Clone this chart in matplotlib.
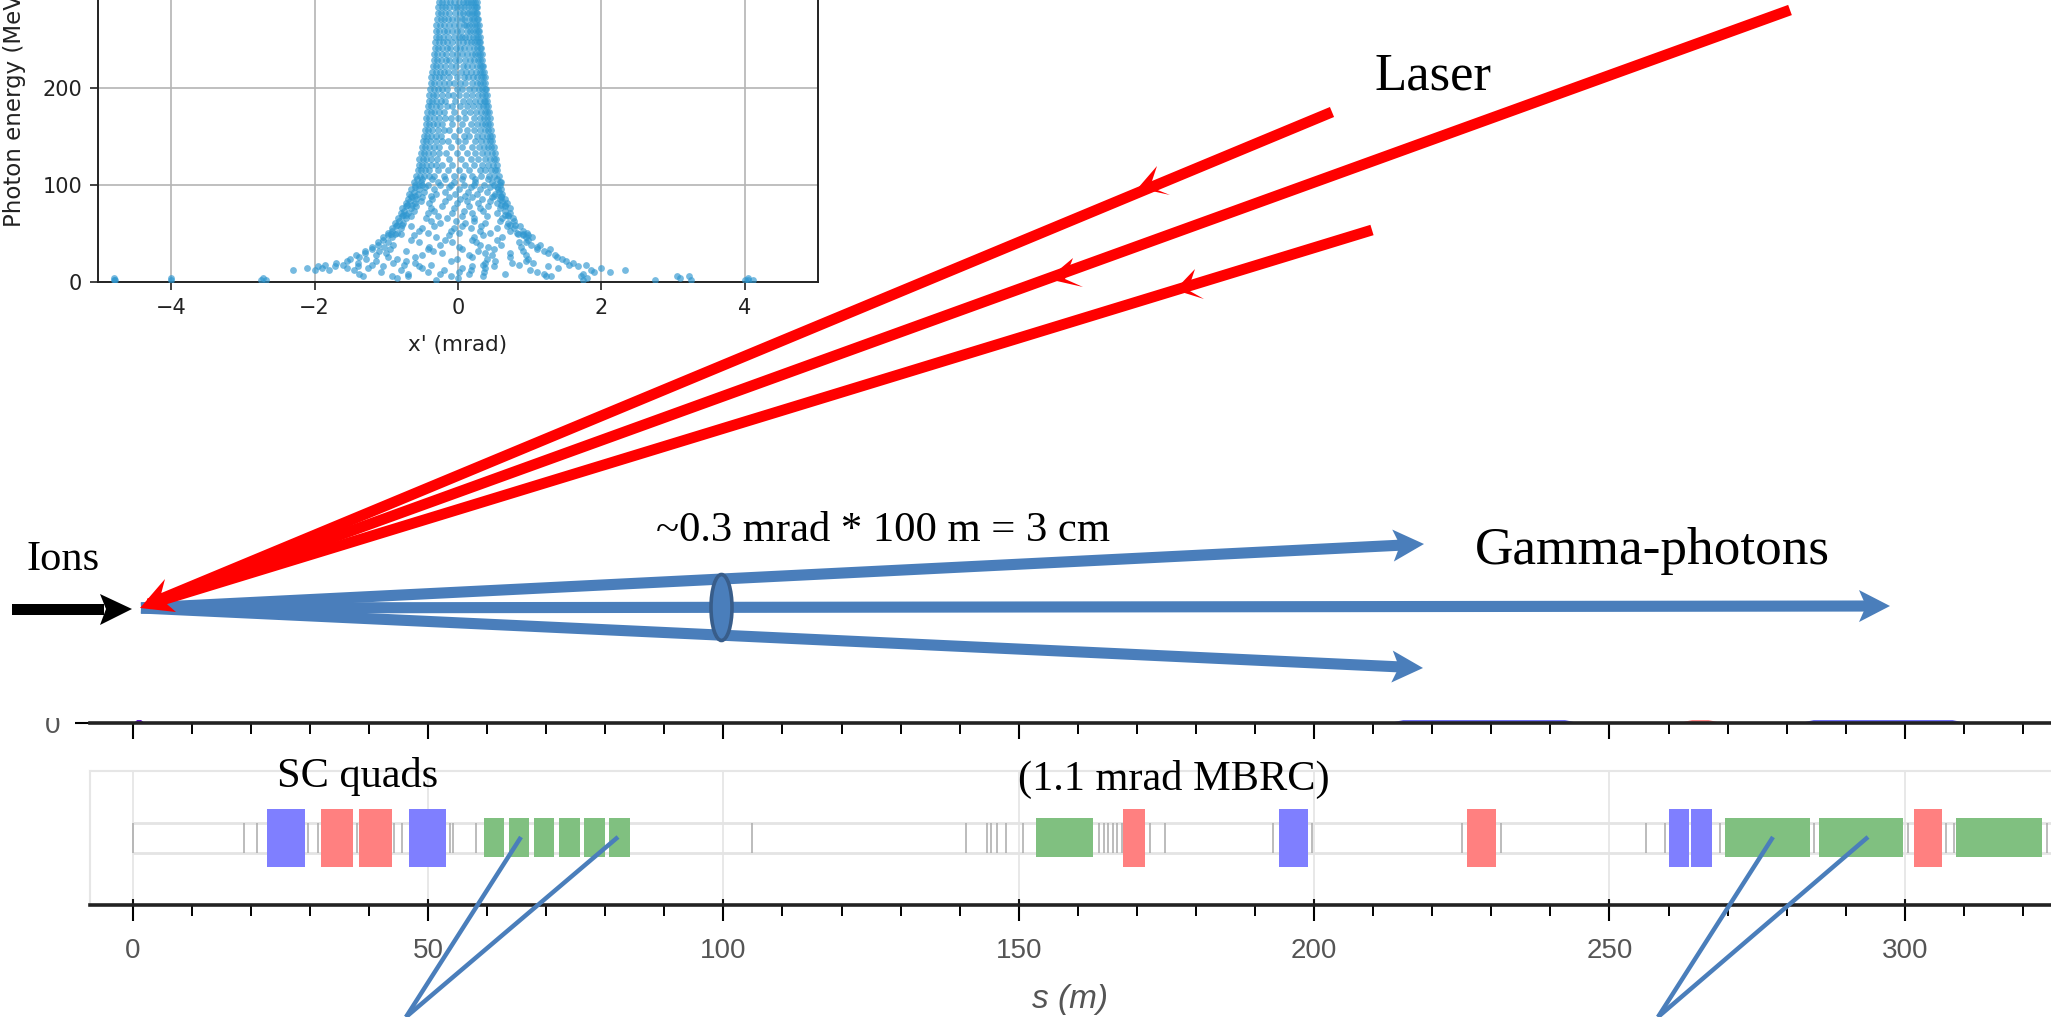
#!/usr/bin/env python3
# laser / gamma-photon sketch over a lattice strip, with scatter inset
import matplotlib
matplotlib.use("Agg")
import matplotlib.pyplot as plt
from matplotlib.patches import Ellipse, Polygon, Rectangle

W, H = 2051, 1017

# ---- inset: photon energy vs x' (rows of equal energy)
ROW_E = [2, 4, 6, 8, 10, 12, 14, 16, 18, 20, 22, 24, 26, 28, 30, 32, 34, 36, 38, 41, 43, 46, 48, 51, 53,
         56, 58, 61, 63, 66, 68, 71, 73, 76, 78, 81, 83, 86, 88, 91, 93, 96, 98,
         103, 109, 115, 121, 127, 133, 139, 145, 151, 157, 163, 169, 175, 181, 187, 193,
         199, 205, 211, 217, 223, 229, 235, 241, 247, 253, 259, 265, 271, 277, 283, 289, 295,
         49, 59, 69, 79, 89, 100.5, 106]
ROW_X = [
    [-4.8, -4.78, -4.0, -2.75, -2.68, -.3, 1.75, 2.75, 3.25, 4.0, 4.05, 4.12],
    [-4.8, -4.0, -2.72, -.85, 0.0, 1.8, 3.1, 4.05],
    [-1.32, -.92, -.7, -.1, .35, 1.23, 1.3, 1.72, 3.05, 3.22],
    [-1.38, -.7, -.25, .16, .65, 1.2, 1.75],
    [-1.08, -.42, .02, .36, 1.1, 1.9, 2.12],
    [-2.3, -2.0, -1.8, -1.45, -.8, -.2, .18, 1.0, 1.85, 2.33],
    [-2.1, -1.9, -1.55, -1.25, -.5, .05, .38, 1.4, 2.0],
    [-1.95, -1.72, -1.4, -1.05, -.55, .2, .5, 1.25, 1.68],
    [-1.85, -1.6, -1.2, -.75, -.38, .35, .85, 1.55, 1.78],
    [-1.7, -1.4, -.9, -.6, .38, .75, 1.05, 1.6],
    [-1.55, -1.15, -.72, -.1, .52, .95, 1.5],
    [-1.5, -1.28, -.85, -.02, .4, .98, 1.45],
    [-1.38, -.98, -.6, .2, .72, 1.38],
    [-1.42, -1.15, -.5, .15, .48, .95, 1.35],
    [-1.3, -1.0, -.22, .38, .72, 1.25],
    [-1.3, -1.1, -.72, -.35, .28, .9, 1.2],
    [-1.2, -.95, -.42, .05, .5, 1.1, 1.28],
    [-1.2, -1.03, -.4, .02, .42, .88, 1.1],
    [-1.12, -.9, -.25, .3, .6, 1.02, 1.15],
    [-1.12, -.98, -.55, -.08, .25, .85, .95],
    [-1.05, -.65, -.18, .2, .55, .98],
    [-1.05, -.92, -.3, .22, .62, .95, 1.03],
    [-.98, -.62, -.12, .35, .9, .98],
    [-.98, -.85, -.42, .02, .45, .82, .96],
    [-.92, -.55, -.1, .3, .72, .9],
    [-.92, -.8, -.5, -.05, .18, .55, .78],
    [-.86, -.65, -.33, .05, .32, .68, .86],
    [-.88, -.76, -.25, .1, .38, .7],
    [-.82, -.38, -.03, .22, .58, .78],
    [-.84, -.72, -.45, -.15, .22, .62, .76],
    [-.78, -.66, -.28, .05, .4, .7],
    [-.8, -.7, -.42, -.08, .2, .55, .72],
    [-.75, -.62, -.33, .08, .35, .66],
    [-.78, -.66, -.38, -.05, .3, .58, .72],
    [-.72, -.58, -.22, .15, .42, .66],
    [-.73, -.6, -.4, -.02, .28, .55, .68],
    [-.67, -.52, -.18, .12, .45, .62],
    [-.7, -.58, -.36, .03, .34, .58, .65],
    [-.64, -.5, -.12, .2, .48, .6],
    [-.68, -.56, -.3, -.04, .26, .52, .62],
    [-.62, -.48, -.18, .14, .4, .57],
    [-.65, -.54, -.34, .02, .3, .56, .6],
    [-.6, -.46, -.12, .18, .44, .55],
    [-.62, -.52, -.28, -.05, .24, .48, .58, .6],
    [-.58, -.53, -.47, -.41, -.33, -.2, -.06, .07, .2, .32, .43, .5, .57],
    [-.56, -.52, -.46, -.4, -.28, -.14, .02, .16, .3, .38, .46, .51, .55],
    [-.55, -.5, -.45, -.38, -.31, -.22, -.08, .1, .22, .34, .42, .49, .54],
    [-.54, -.49, -.44, -.37, -.29, -.12, .04, .18, .28, .37, .44, .5, .53],
    [-.52, -.48, -.42, -.35, -.26, -.17, -.02, .12, .24, .33, .41, .47, .51],
    [-.5, -.46, -.4, -.34, -.27, -.1, .06, .2, .29, .36, .42, .46, .5],
    [-.49, -.45, -.39, -.31, -.22, -.14, 0.0, .1, .24, .32, .39, .45, .48],
    [-.48, -.43, -.37, -.3, -.24, -.06, .08, .16, .27, .34, .4, .44, .47],
    [-.46, -.42, -.36, -.28, -.2, -.12, .02, .13, .22, .31, .38, .42, .46],
    [-.45, -.41, -.35, -.29, -.22, -.08, .06, .18, .26, .33, .38, .42, .45],
    [-.44, -.4, -.34, -.27, -.18, -.1, 0.0, .1, .22, .3, .36, .41, .44],
    [-.43, -.38, -.33, -.26, -.2, -.05, .08, .17, .25, .32, .37, .4, .43],
    [-.42, -.37, -.31, -.25, -.16, -.09, .03, .12, .21, .29, .35, .39, .42],
    [-.41, -.36, -.3, -.24, -.18, -.04, .07, .16, .24, .3, .36, .38, .41],
    [-.4, -.35, -.3, -.23, -.14, -.07, .02, .11, .2, .28, .33, .37, .4],
    [-.39, -.34, -.28, -.22, -.15, -.02, .06, .15, .22, .29, .34, .37, .39],
    [-.38, -.33, -.27, -.2, -.13, -.06, .03, .1, .19, .26, .31, .35, .38],
    [-.37, -.32, -.27, -.21, -.12, -.01, .08, .14, .21, .27, .32, .35, .37],
    [-.36, -.31, -.25, -.19, -.14, -.05, .04, .11, .18, .25, .3, .34, .36],
    [-.35, -.3, -.25, -.18, -.1, -.03, .07, .13, .2, .26, .3, .33, .35],
    [-.34, -.29, -.24, -.17, -.12, -.04, .02, .1, .17, .23, .28, .31, .34],
    [-.33, -.29, -.23, -.17, -.09, -.01, .06, .12, .19, .24, .28, .31, .33],
    [-.32, -.28, -.22, -.16, -.11, -.03, .03, .09, .16, .22, .27, .3, .32],
    [-.32, -.27, -.21, -.15, -.08, 0.0, .07, .13, .18, .23, .26, .29, .31],
    [-.31, -.26, -.21, -.14, -.06, .02, .05, .1, .15, .21, .25, .28, .3],
    [-.3, -.26, -.2, -.15, -.09, -.02, .04, .12, .17, .21, .25, .28, .29],
    [-.3, -.25, -.19, -.13, -.05, .01, .08, .11, .15, .2, .24, .27, .29],
    [-.29, -.24, -.19, -.14, -.08, -.01, .05, .09, .16, .2, .23, .26, .28],
    [-.28, -.24, -.18, -.12, -.04, .03, .07, .12, .15, .19, .22, .25, .27],
    [-.28, -.23, -.18, -.13, -.06, -.01, .04, .09, .14, .18, .22, .25, .27],
    [-.27, -.23, -.17, -.11, -.05, .02, .07, .11, .14, .18, .21, .24, .26],
    [-.26, -.22, -.17, -.12, -.07, -.01, .05, .09, .13, .17, .2, .23, .25],
    [-.93, -.88, -.8, .84, .9],
    [-.85, -.78, .72, .8],
    [-.77, -.72, .66, .7],
    [-.71, -.64, .6, .66],
    [-.66, -.6, -.38, .1, .5, .6],
    [-.6, -.55, -.5, -.42, -.25, -.1, .08, .22, .36, .5, .58],
    [-.57, -.5, -.36, -.18, .05, .24, .42, .54],
]

# ---- lattice elements, s (m)
QUAD_F_START = [22.8, 46.7, 194.0, 260.0, 263.8]
QUAD_F_END = [29.1, 53.1, 198.9, 263.5, 267.3]
QUAD_D_START = [31.8, 38.3, 167.7, 225.9, 301.6]
QUAD_D_END = [37.3, 43.9, 171.3, 230.8, 306.3]
DIPOLE_START = [59.4, 63.7, 67.9, 72.2, 76.4, 80.7, 153.0, 269.6, 285.4, 308.7]
DIPOLE_END = [62.9, 67.1, 71.4, 75.7, 80.0, 84.2, 162.6, 284.0, 299.7, 323.2]
MARKERS = [0, 18.9, 21.1, 29.6, 31.3, 37.9, 44.2, 45.6, 53.7, 54.2, 58.1, 104.8, 141, 144.6,
           145.3, 146.4, 147.9, 150.8, 163.6, 164.4, 165.1, 165.9, 166.7, 167.5, 172.2, 174.7,
           193.1, 199.6, 225, 231.6, 256.2, 259.4, 268.7, 284.6, 300.6, 306.9, 308.4, 324]
MAJOR = [0, 50, 100, 150, 200, 250, 300]
MINOR = [10, 20, 30, 40, 60, 70, 80, 90, 110, 120, 130, 140, 160, 170, 180, 190, 210, 220, 230,
         240, 260, 270, 280, 290, 310, 320]

# remains of the hidden plot above the strip
TOP_START = [0, 212.5, 261.4, 282.0]
TOP_END = [2, 244.9, 269.2, 310.5]
TOP_COLOR = ["#6a1fd0", "#7070f5", "#ff8a8a", "#7070f5"]

# ---- diagram, picture pixels
ORIGIN = (141, 608)
RED_ENDS = [(1332, 112), (1790, 10), (1372, 230)]
BLUE_TIPS = [(1424, 544), (1890, 606), (1423, 668)]
RED_BARBS = [[(1138, 188), (1157, 166), (1150, 187), (1170, 195)],
             [(1048, 279), (1073, 258), (1065, 279), (1083, 287)],
             [(1175, 290), (1195, 269), (1188, 290), (1204, 299)],
             [(140, 608), (165, 579), (160, 598), (176, 612)]]
POINTER_TIPS = [(406, 1017), (1658, 1017)]
POINTER_ENDS = [[(521, 837), (618, 837)], [(1773, 837), (1868, 837)]]
RED = "#ff0000"
BLUE = "#4a7ebb"


def mpos(left, top, right, bottom):
    return [left / W, 1 - bottom / H, (right - left) / W, (bottom - top) / H]


def s_lim(left, right):
    return (left - 132.7) / 5.907, (right - 132.7) / 5.907


plt.rcParams["font.family"] = ["Liberation Sans", "DejaVu Sans"]
fig = plt.figure(figsize=(W / 100, H / 100), dpi=100)

# ---- lattice strip
ax = fig.add_axes(mpos(90, 771, W, 905))
ax.set_xlim(*s_lim(90, W))
ax.set_ylim(-1, 1)
for s in ["top", "left"]:
    ax.spines[s].set_color("#e6e6e6")
    ax.spines[s].set_linewidth(1.5)
ax.spines["right"].set_visible(False)
ax.spines["bottom"].set_linewidth(2.6)
ax.spines["bottom"].set_color("#222222")
ax.set_yticks([])
ax.set_xticks(MAJOR)
ax.set_xticks(MINOR, minor=True)
ax.xaxis.grid(True, color="#e4e4e4", lw=1.2)
ax.set_axisbelow(True)
ax.tick_params(axis="x", which="major", length=11.5, width=1.5, pad=12, labelsize=20,
               labelcolor="#555555")
ax.tick_params(axis="x", which="minor", length=8, width=1.4)
ax.vlines(MAJOR, -1, -0.91, color="#111111", lw=1.5)
ax.set_xlabel("s (m)", fontsize=24, style="italic", color="#555555", labelpad=15)
ax.hlines([.224, -.224], 0, s_lim(90, W)[1], color="#e4e4e4", lw=2)
ax.vlines(MARKERS, -.23, .23, color="#aaaaaa", lw=1.1)
for a, b in zip(QUAD_F_START, QUAD_F_END):
    ax.bar((a + b) / 2, .866, b - a, bottom=-.433, color="#7f7fff", zorder=3)
for a, b in zip(QUAD_D_START, QUAD_D_END):
    ax.bar((a + b) / 2, .866, b - a, bottom=-.433, color="#ff8080", zorder=3)
for a, b in zip(DIPOLE_START, DIPOLE_END):
    ax.bar((a + b) / 2, .58, b - a, bottom=-.28, color="#80c080", zorder=3)

# ---- cut-off strip above
top = fig.add_axes(mpos(90, 716, W, 723))
top.set_xlim(*s_lim(90, W))
top.set_ylim(0, 7)
for s in ["top", "left", "right"]:
    top.spines[s].set_visible(False)
top.spines["bottom"].set_linewidth(2.6)
top.spines["bottom"].set_color("#222222")
top.set_xticks(MAJOR)
top.set_xticklabels([])
top.set_xticks(MINOR, minor=True)
top.set_yticks([0])
top.set_yticklabels(["0"], fontsize=20, color="#555555")
top.tick_params(axis="x", which="major", length=11.5, width=1.5)
top.tick_params(axis="x", which="minor", length=8, width=1.4)
top.tick_params(axis="y", length=11, width=1.5, pad=10)
for a, b, c in zip(TOP_START, TOP_END, TOP_COLOR):
    taper = min(2.5, (b - a) / 3)
    top.fill_between([a, a + taper, b - taper, b], 0, [0, 3.5, 3.5, 0], color=c, lw=0)

# ---- diagram overlay in picture pixels
ov = fig.add_axes([0, 0, 1, 1], zorder=5)
ov.set_xlim(0, W)
ov.set_ylim(H, 0)
ov.axis("off")
ov.add_patch(Rectangle((0, 690), 120, 28, fc="white", ec="none", zorder=0))

for tip in BLUE_TIPS:
    dx, dy = tip[0] - ORIGIN[0], tip[1] - ORIGIN[1]
    n = (dx ** 2 + dy ** 2) ** .5
    ux, uy = dx / n, dy / n
    base = (tip[0] - 24 * ux, tip[1] - 24 * uy)
    ov.plot([ORIGIN[0], base[0]], [ORIGIN[1], base[1]], color=BLUE, lw=8, solid_capstyle="butt", zorder=2)
    ov.add_patch(Polygon([tip, (tip[0] - 31 * ux - 16 * uy, tip[1] - 31 * uy + 16 * ux), base,
                          (tip[0] - 31 * ux + 16 * uy, tip[1] - 31 * uy - 16 * ux)],
                         fc=BLUE, ec="none", zorder=2))
ov.add_patch(Ellipse((721.5, 607.5), 21, 66, fc=BLUE, ec="#385d8a", lw=2.6, zorder=3))

for end in RED_ENDS:
    ov.plot([ORIGIN[0] + 8, end[0]], [ORIGIN[1] - 4, end[1]], color=RED, lw=7.8,
            solid_capstyle="butt", zorder=4)
for barb in RED_BARBS:
    ov.add_patch(Polygon(barb, fc=RED, ec="none", zorder=4))

ov.add_patch(Rectangle((12, 604), 92, 11, fc="black", ec="none", zorder=4))
ov.add_patch(Polygon([(132, 609), (100, 594), (106, 609), (100, 625)], fc="black", ec="none", zorder=4))

for tip, ends in zip(POINTER_TIPS, POINTER_ENDS):
    for end in ends:
        ov.plot([tip[0], end[0]], [tip[1], end[1]], color=BLUE, lw=3.2, solid_capstyle="butt", zorder=4)

serif = "Liberation Serif"
ov.text(1374, 76, "Laser", family=serif, fontsize=38, va="center", color="black")
ov.text(1475, 551, "Gamma-photons", family=serif, fontsize=38.3, va="center", color="black")
ov.text(656, 531, "~0.3 mrad * 100 m = 3 cm", family=serif, fontsize=30.7, va="center", color="black")
ov.text(27, 560, "Ions", family=serif, fontsize=30.5, va="center", color="black")
ov.text(277, 776, "SC quads", family=serif, fontsize=30.5, va="center", color="black")
ov.text(1018, 779, "(1.1 mrad MBRC)", family=serif, fontsize=30.5, va="center", color="black")

# ---- scatter inset (runs off the top of the picture)
ins = fig.add_axes(mpos(98, -96, 818, 282), zorder=6)
ins.set_xlim(-5.02, 5.02)
ins.set_ylim(0, 389.7)
for e, xs in zip(ROW_E, ROW_X):
    ins.scatter(xs, [e] * len(xs), s=24, color="#2f97d0", alpha=.66, linewidths=0, zorder=3)
ins.set_xticks([-4, -2, 0, 2, 4])
ins.set_xticklabels(["\u22124", "\u22122", "0", "2", "4"])
ins.set_yticks([0, 100, 200, 300])
ins.grid(True, color="#b4b4b4", lw=1.2)
ins.set_axisbelow(True)
ins.tick_params(labelsize=15, length=5.5, width=1.2, pad=6, colors="#222222",
                labelfontfamily="DejaVu Sans")
for s in ins.spines.values():
    s.set_linewidth(1.4)
    s.set_color("#222222")
ins.text(458, 345, "x' (mrad)", transform=ov.transData, fontsize=15.5, family="DejaVu Sans",
         ha="center", va="center", color="#222222")
ins.text(15, 227, "Photon energy (MeV)", transform=ov.transData, fontsize=16.5, family="DejaVu Sans",
         rotation=90, ha="left", va="center", color="#222222", rotation_mode="anchor", clip_on=False)

fig.savefig("out.png", dpi=100)
